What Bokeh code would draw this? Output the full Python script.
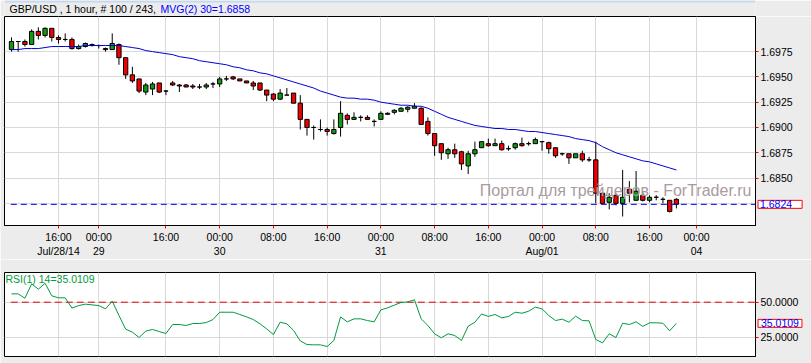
from bokeh.plotting import figure
from bokeh.layouts import column
from bokeh.models import (ColumnDataSource, FixedTicker, LinearAxis, Range1d,
                          Label, PrintfTickFormatter, BoxAnnotation)
from bokeh.embed import file_html
from bokeh.resources import INLINE

# ---------------- data ----------------
opens = [1.6977, 1.6985, 1.6985, 1.6982, 1.6995, 1.6991, 1.6998, 1.6989, 1.6987, 1.6987,
         1.6978, 1.6980, 1.6981, 1.6981, 1.6978, 1.6977, 1.6982, 1.6969, 1.6952, 1.6948,
         1.6935, 1.6938, 1.6944, 1.6936, 1.6944, 1.6942, 1.6942, 1.6941, 1.6940, 1.6940,
         1.6943, 1.6943, 1.6948, 1.6950, 1.6948, 1.6946, 1.6944, 1.6944, 1.6937, 1.6933,
         1.6928, 1.6932, 1.6934, 1.6924, 1.6908, 1.6900, 1.6898, 1.6898, 1.6894, 1.6900,
         1.6912, 1.6908, 1.6910, 1.6910, 1.6906, 1.6908, 1.6913, 1.6915, 1.6916, 1.6918,
         1.6919, 1.6919, 1.6906, 1.6894, 1.6884, 1.6874, 1.6878, 1.6876, 1.6862, 1.6874,
         1.6880, 1.6884, 1.6882, 1.6884, 1.6879, 1.6880, 1.6884, 1.6884, 1.6884, 1.6886,
         1.6885, 1.6880, 1.6874, 1.6874, 1.6870, 1.6874, 1.6868, 1.6868, 1.6835, 1.6826,
         1.6833, 1.6825, 1.6839, 1.6828, 1.6833, 1.6828, 1.6831, 1.6829, 1.6828, 1.6829]
highs = [1.6989, 1.6985, 1.6987, 1.6997, 1.6999, 1.6999, 1.6998, 1.6991, 1.6993, 1.6989,
         1.6982, 1.6984, 1.6983, 1.6982, 1.6979, 1.6993, 1.6983, 1.6969, 1.6960, 1.6948,
         1.6944, 1.6945, 1.6944, 1.6937, 1.6946, 1.6943, 1.6943, 1.6943, 1.6943, 1.6944,
         1.6945, 1.6950, 1.6951, 1.6951, 1.6948, 1.6946, 1.6946, 1.6944, 1.6937, 1.6934,
         1.6938, 1.6939, 1.6934, 1.6932, 1.6908, 1.6902, 1.6908, 1.6900, 1.6908, 1.6926,
         1.6914, 1.6915, 1.6912, 1.6912, 1.6908, 1.6916, 1.6915, 1.6918, 1.6920, 1.6921,
         1.6924, 1.6920, 1.6910, 1.6894, 1.6884, 1.6880, 1.6884, 1.6877, 1.6877, 1.6886,
         1.6886, 1.6889, 1.6889, 1.6887, 1.6882, 1.6885, 1.6890, 1.6886, 1.6890, 1.6886,
         1.6886, 1.6880, 1.6875, 1.6874, 1.6874, 1.6877, 1.6871, 1.6886, 1.6835, 1.6835,
         1.6835, 1.6858, 1.6847, 1.6857, 1.6837, 1.6833, 1.6833, 1.6831, 1.6828, 1.6830]
lows = [1.6975, 1.6975, 1.6980, 1.6982, 1.6987, 1.6989, 1.6985, 1.6983, 1.6985, 1.6977,
        1.6977, 1.6979, 1.6980, 1.6978, 1.6975, 1.6977, 1.6962, 1.6948, 1.6944, 1.6934,
        1.6932, 1.6932, 1.6934, 1.6932, 1.6941, 1.6935, 1.6940, 1.6938, 1.6938, 1.6938,
        1.6939, 1.6940, 1.6946, 1.6947, 1.6946, 1.6944, 1.6937, 1.6936, 1.6926, 1.6926,
        1.6927, 1.6932, 1.6924, 1.6898, 1.6892, 1.6888, 1.6896, 1.6892, 1.6893, 1.6891,
        1.6903, 1.6908, 1.6906, 1.6908, 1.6901, 1.6908, 1.6913, 1.6913, 1.6916, 1.6915,
        1.6919, 1.6903, 1.6892, 1.6872, 1.6868, 1.6869, 1.6870, 1.6858, 1.6854, 1.6871,
        1.6880, 1.6881, 1.6882, 1.6877, 1.6877, 1.6878, 1.6881, 1.6882, 1.6884, 1.6877,
        1.6874, 1.6870, 1.6872, 1.6864, 1.6870, 1.6866, 1.6866, 1.6825, 1.6825, 1.6819,
        1.6823, 1.6812, 1.6826, 1.6828, 1.6827, 1.6826, 1.6828, 1.6825, 1.6816, 1.6820]
closes = [1.6985, 1.6985, 1.6982, 1.6995, 1.6991, 1.6998, 1.6989, 1.6987, 1.6987, 1.6978,
          1.6980, 1.6983, 1.6982, 1.6981, 1.6977, 1.6983, 1.6969, 1.6952, 1.6946, 1.6936,
          1.6942, 1.6943, 1.6935, 1.6936, 1.6942, 1.6941, 1.6940, 1.6940, 1.6940, 1.6942,
          1.6943, 1.6948, 1.6948, 1.6948, 1.6946, 1.6944, 1.6941, 1.6937, 1.6932, 1.6928,
          1.6934, 1.6932, 1.6924, 1.6908, 1.6900, 1.6900, 1.6898, 1.6896, 1.6898, 1.6914,
          1.6908, 1.6910, 1.6910, 1.6908, 1.6906, 1.6914, 1.6914, 1.6917, 1.6919, 1.6920,
          1.6921, 1.6903, 1.6894, 1.6882, 1.6875, 1.6878, 1.6874, 1.6864, 1.6874, 1.6878,
          1.6886, 1.6882, 1.6884, 1.6878, 1.6879, 1.6884, 1.6882, 1.6884, 1.6888, 1.6886,
          1.6879, 1.6872, 1.6874, 1.6870, 1.6874, 1.6868, 1.6868, 1.6835, 1.6825, 1.6831,
          1.6825, 1.6831, 1.6835, 1.6837, 1.6828, 1.6831, 1.6831, 1.6829, 1.6817, 1.6824]
mvg30 = [1.6977, 1.6977, 1.6978, 1.6978, 1.6978, 1.6979, 1.6980, 1.6980, 1.6980, 1.6980,
         1.6980, 1.6981, 1.6981, 1.6981, 1.6981, 1.6981, 1.6981, 1.6980, 1.6979, 1.6978,
         1.6976, 1.6975, 1.6974, 1.6973, 1.6972, 1.6970, 1.6969, 1.6968, 1.6966, 1.6965,
         1.6964, 1.6963, 1.6962, 1.6960, 1.6959, 1.6957, 1.6956, 1.6954, 1.6953, 1.6951,
         1.6949, 1.6947, 1.6945, 1.6943, 1.6941, 1.6939, 1.6936, 1.6934, 1.6932, 1.6930,
         1.6929, 1.6929, 1.6928, 1.6928, 1.6927, 1.6925, 1.6924, 1.6923, 1.6922, 1.6922,
         1.6921, 1.6921, 1.6919, 1.6916, 1.6913, 1.6910, 1.6908, 1.6906, 1.6904, 1.6902,
         1.6901, 1.6900, 1.6899, 1.6899, 1.6898, 1.6898, 1.6897, 1.6896, 1.6896, 1.6895,
         1.6894, 1.6893, 1.6892, 1.6891, 1.6889, 1.6888, 1.6887, 1.6885, 1.6881, 1.6878,
         1.6875, 1.6873, 1.6871, 1.6869, 1.6867, 1.6866, 1.6864, 1.6862, 1.6860, 1.6858]
rsi14 = [55.9, 55.9, 52.8, 63.0, 59.2, 63.4, 54.5, 53.1, 53.1, 45.8,
         47.6, 48.6, 48.1, 47.6, 45.3, 50.7, 40.6, 30.9, 28.8, 25.0,
         29.5, 30.7, 29.2, 27.8, 34.2, 34.2, 33.5, 34.9, 34.9, 35.6,
         37.7, 42.9, 42.9, 42.9, 41.3, 39.6, 37.7, 34.7, 31.1, 27.1,
         35.8, 34.7, 30.0, 22.6, 20.0, 19.8, 19.8, 18.6, 22.9, 39.6,
         36.1, 38.2, 38.2, 37.0, 36.1, 44.6, 46.0, 47.9, 49.8, 50.2,
         51.7, 38.2, 33.5, 27.6, 24.8, 27.6, 26.4, 22.9, 33.0, 35.8,
         41.7, 39.9, 41.3, 38.9, 39.9, 42.9, 42.2, 43.6, 46.5, 45.3,
         40.6, 37.0, 38.0, 35.8, 40.1, 37.0, 36.8, 23.6, 21.2, 27.6,
         25.0, 35.1, 34.2, 36.1, 32.8, 35.4, 35.4, 35.1, 29.7, 35.0109]

time_ticks = [7, 13, 23, 31, 39, 47, 55, 63, 71, 79, 87, 95, 102]
time_labels = ["16:00", "00:00", "16:00", "00:00", "08:00", "16:00", "00:00",
               "08:00", "16:00", "00:00", "08:00", "16:00", "00:00"]
date_ticks = [7, 13, 31, 55, 79, 102]
date_labels = ["Jul/28/14", "29", "30", "31", "Aug/01", "04"]
price_ticks = [1.6850, 1.6875, 1.6900, 1.6925, 1.6950, 1.6975]
price_grid = [1.6825, 1.6850, 1.6875, 1.6900, 1.6925, 1.6950, 1.6975]
rsi_ticks = [25, 50]
rsi_level = 50

title_main = "GBP/USD , 1 hour, # 100 / 243, "
title_mvg = "MVG(2) 30=1.6858"
title_rsi = "RSI(1) 14=35.0109"
watermark = "Портал для трейдеров - ForTrader.ru"

# ---------------- styles ----------------
FONT = "Liberation Sans"
FS = "10.5px"
BG = "#ECECEC"
GRID = "#D9D9D9"
UP = "#129912"
DOWN = "#F00000"
RSI_GREEN = "#009A3E"
W = 811

n = len(closes)
xs = list(range(n))
body_top = [max(o, c) for o, c in zip(opens, closes)]
body_bot = [min(o, c) for o, c in zip(opens, closes)]
colors = [UP if c > o else (DOWN if c < o else "white") for o, c in zip(opens, closes)]
src = ColumnDataSource(dict(x=xs, o=opens, h=highs, l=lows, c=closes,
                            top=body_top, bot=body_bot, col=colors, ma=mvg30, rsi=rsi14))

x_range = Range1d(-1.04, 110.78)


def style_right_axis(ax, ticks):
    ax.ticker = FixedTicker(ticks=ticks)
    ax.formatter = PrintfTickFormatter(format="%.4f")
    ax.major_tick_out = 3
    ax.major_tick_in = 0
    ax.minor_tick_line_color = None
    ax.major_tick_line_color = "red"
    ax.axis_line_color = "black"
    ax.major_label_standoff = 2
    ax.major_label_text_font = FONT
    ax.major_label_text_font_size = FS
    ax.major_label_text_color = "black"


# ---------------- header ----------------
hdr = figure(width=W, height=16, x_range=Range1d(0, W), y_range=Range1d(0, 16),
             toolbar_location=None, output_backend="svg",
             x_axis_location=None, y_axis_location=None, min_border=0)
hdr.background_fill_color = BG
hdr.border_fill_color = BG
hdr.outline_line_color = None
hdr.grid.visible = False
hdr.add_layout(BoxAnnotation(bottom=14, top=16, fill_color="#C4D8EE", fill_alpha=1,
                             line_color=None))
hdr.add_layout(Label(x=5, y=7.4, x_units="screen", y_units="screen", text=title_main,
                     text_font=FONT, text_font_size=FS, text_color="black",
                     text_baseline="middle"))
hdr.add_layout(Label(x=156, y=7.4, x_units="screen", y_units="screen", text=title_mvg,
                     text_font=FONT, text_font_size=FS, text_color="#0000FF",
                     text_baseline="middle"))

# ---------------- main panel ----------------
p1 = figure(width=W, height=243, x_range=x_range, y_range=Range1d(1.68031, 1.70097),
            y_axis_location="right", toolbar_location=None, output_backend="svg",
            min_border_left=4, min_border_right=56, min_border_top=0, min_border_bottom=33)
p1.background_fill_color = "white"
p1.border_fill_color = BG
p1.outline_line_color = "black"
p1.outline_line_width = 1

style_right_axis(p1.yaxis[0], price_ticks)

xax = p1.xaxis[0]
xax.ticker = FixedTicker(ticks=time_ticks)
xax.major_label_overrides = {t: s for t, s in zip(time_ticks, time_labels)}
xax.major_tick_out = 3
xax.major_tick_in = 0
xax.minor_tick_line_color = None
xax.major_tick_line_color = "red"
xax.axis_line_color = "black"
xax.major_label_standoff = 2
xax.major_label_text_font = FONT
xax.major_label_text_font_size = FS
xax.major_label_text_color = "black"

p1.xgrid.ticker = FixedTicker(ticks=time_ticks)
p1.ygrid.ticker = FixedTicker(ticks=price_grid)
for g in (p1.xgrid, p1.ygrid):
    g.grid_line_color = GRID
    g.grid_line_width = 1

p1.add_layout(Label(x=747, y=34.8, x_units="screen", y_units="screen", text=watermark,
                    text_font=FONT, text_font_size="16px", text_color="#A99C9C",
                    text_align="right", text_baseline="middle"))

p1.segment(x0="x", y0="h", x1="x", y1="l", source=src, line_color="black", line_width=1)
p1.vbar(x="x", width=0.64, top="top", bottom="bot", source=src,
        fill_color="col", line_color="black", line_width=1)
p1.line(x="x", y="ma", source=src, line_color="#0000D0", line_width=1)

last_price = closes[-1]
p1.segment(x0=[xs[0] - 0.1], y0=[last_price], x1=[x_range.end + 1], y1=[last_price],
           line_color="#0000FF", line_width=1, line_dash="6 4")

# current-price box, placed in the bottom side panel so it is not clipped
pbox = Label(x=753.5, y=last_price, x_units="screen", y_units="data",
             text="%.4f" % last_price,
             text_font=FONT, text_font_size=FS, text_color="#0000FF",
             text_baseline="middle", text_align="left",
             background_fill_color="white", border_line_color="red", border_line_width=1,
             padding=dict(left=2, right=10, top=0, bottom=0))
p1.add_layout(pbox, "below")

dax = LinearAxis(ticker=FixedTicker(ticks=date_ticks),
                 major_label_overrides={t: s for t, s in zip(date_ticks, date_labels)},
                 axis_line_color=None, major_tick_line_color=None, minor_tick_line_color=None,
                 major_tick_out=0, major_tick_in=0, major_label_standoff=-9,
                 major_label_text_font=FONT, major_label_text_font_size=FS,
                 major_label_text_color="black")
p1.add_layout(dax, "below")

# ---------------- RSI panel ----------------
p2 = figure(width=W, height=104, x_range=x_range, y_range=Range1d(11.54, 71.03),
            y_axis_location="right", x_axis_location=None, toolbar_location=None,
            output_backend="svg",
            min_border_left=4, min_border_right=56, min_border_top=13, min_border_bottom=7)
p2.background_fill_color = "white"
p2.border_fill_color = BG
p2.outline_line_color = "black"

style_right_axis(p2.yaxis[0], rsi_ticks)

p2.xgrid.ticker = FixedTicker(ticks=time_ticks)
p2.ygrid.ticker = FixedTicker(ticks=rsi_ticks)
for g in (p2.xgrid, p2.ygrid):
    g.grid_line_color = GRID
    g.grid_line_width = 1

p2.segment(x0=[xs[0] - 0.1], y0=[rsi_level], x1=[x_range.end + 1], y1=[rsi_level],
           line_color="#E00000", line_width=1, line_dash="7 4")
p2.line(x="x", y="rsi", source=src, line_color=RSI_GREEN, line_width=1)

p2.add_layout(Label(x=1, y=78, x_units="screen", y_units="screen", text=title_rsi,
                    text_font=FONT, text_font_size=FS, text_color=RSI_GREEN,
                    text_baseline="middle"))

last_rsi = rsi14[-1]
rbox = Label(x=753.5, y=last_rsi, x_units="screen", y_units="data", text="%.4f" % last_rsi,
             text_font=FONT, text_font_size=FS, text_color="#0000FF",
             text_baseline="middle", text_align="left",
             background_fill_color="white", border_line_color="red", border_line_width=1,
             padding=dict(left=3, right=3, top=0, bottom=0))
p2.add_layout(rbox, "above")

layout = column(hdr, p1, p2, spacing=0)
open("out.html", "w").write(file_html(layout, INLINE))
